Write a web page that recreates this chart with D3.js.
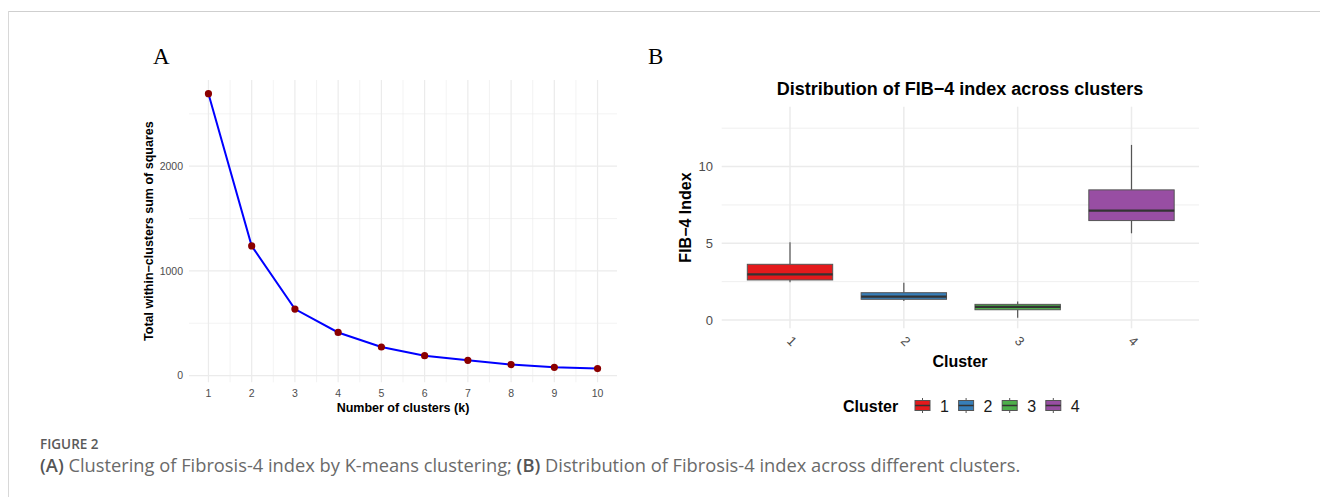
<!DOCTYPE html>
<html>
<head>
<meta charset="utf-8">
<script src="https://cdn.jsdelivr.net/npm/d3@7"></script>
<style>
  body { margin: 0; background: #fff; }
  svg { display: block; font-family: "Liberation Sans", Arial, sans-serif; }
</style>
</head>
<body>
<div id="chart"></div>
<script>
// Panel A: elbow curve
const kValues = [1, 2, 3, 4, 5, 6, 7, 8, 9, 10];
const wssValues = [2692, 1238, 635, 412, 273, 190, 146, 105, 79, 67];
const wssTicks = [0, 1000, 2000];
const wssMinor = [500, 1500, 2500];

// Panel B: box summaries per cluster
const clusters = ["1", "2", "3", "4"];
const fibLower = [2.46, 1.24, 0.15, 5.65];
const fibQ1 = [2.61, 1.35, 0.67, 6.48];
const fibMedian = [2.98, 1.52, 0.85, 7.13];
const fibQ3 = [3.63, 1.78, 1.02, 8.48];
const fibUpper = [5.07, 2.43, 1.20, 11.41];
const fibTicks = [0, 5, 10];
const fibMinor = [2.5, 7.5, 12.5];
const clusterColors = ["#E41A1C", "#377EB8", "#4DAF4A", "#984EA3"];

const svg = d3.select("#chart").append("svg")
    .attr("width", 1320)
    .attr("height", 497);

// frame lines of the figure box
svg.append("line").attr("x1", 8).attr("x2", 1320).attr("y1", 11.5).attr("y2", 11.5)
    .attr("stroke", "#cfcfcf").attr("stroke-width", 1);
svg.append("line").attr("x1", 8.5).attr("x2", 8.5).attr("y1", 11).attr("y2", 497)
    .attr("stroke", "#d8d8d8").attr("stroke-width", 1);

const grid = "#ebebeb";
const tickColor = "#4d4d4d";

// ---------- Panel A ----------
const a = { left: 189, right: 617, top: 80, bottom: 382.3 };

const xA = d3.scaleLinear().domain([0.55, 10.45]).range([a.left, a.right]);
const yA = d3.scaleLinear().domain([-64, 2823]).range([a.bottom, a.top]);

svg.append("text").attr("x", 153).attr("y", 64)
    .style("font-family", "'Liberation Serif', 'Times New Roman', serif")
    .style("font-size", "23px").text("A");

const gA = svg.append("g");

// minor grid
gA.selectAll(".vminA").data(kValues.slice(0, -1).map(k => k + 0.5)).enter().append("line")
    .attr("x1", d => xA(d)).attr("x2", d => xA(d)).attr("y1", a.top).attr("y2", a.bottom)
    .attr("stroke", grid).attr("stroke-width", 0.6);
gA.selectAll(".hminA").data(wssMinor).enter().append("line")
    .attr("x1", a.left).attr("x2", a.right).attr("y1", d => yA(d)).attr("y2", d => yA(d))
    .attr("stroke", grid).attr("stroke-width", 0.6);
// major grid
gA.selectAll(".vmajA").data(kValues).enter().append("line")
    .attr("x1", d => xA(d)).attr("x2", d => xA(d)).attr("y1", a.top).attr("y2", a.bottom)
    .attr("stroke", grid).attr("stroke-width", 1.2);
gA.selectAll(".hmajA").data(wssTicks).enter().append("line")
    .attr("x1", a.left).attr("x2", a.right).attr("y1", d => yA(d)).attr("y2", d => yA(d))
    .attr("stroke", grid).attr("stroke-width", 1.2);

// axes labels (ggplot minimal: no axis lines)
gA.selectAll(".ytA").data(wssTicks).enter().append("text")
    .attr("x", 183).attr("y", d => yA(d)).attr("dy", "0.35em")
    .attr("text-anchor", "end").attr("fill", tickColor)
    .style("font-size", "10.5px").text(d => d);
gA.selectAll(".xtA").data(kValues).enter().append("text")
    .attr("x", d => xA(d)).attr("y", 393).attr("dy", "0.35em")
    .attr("text-anchor", "middle").attr("fill", tickColor)
    .style("font-size", "10.5px").text(d => d);

gA.append("text")
    .attr("transform", `translate(153, ${(a.top + a.bottom) / 2}) rotate(-90)`)
    .attr("text-anchor", "middle").attr("font-weight", "bold")
    .style("font-size", "12.5px").text("Total within\u2212clusters sum of squares");
gA.append("text")
    .attr("x", (a.left + a.right) / 2).attr("y", 412)
    .attr("text-anchor", "middle").attr("font-weight", "bold")
    .style("font-size", "12.5px").text("Number of clusters (k)");

const elbow = kValues.map((k, i) => ({ k: k, v: wssValues[i] }));
gA.append("path").datum(elbow)
    .attr("fill", "none").attr("stroke", "#0000FF").attr("stroke-width", 2)
    .attr("d", d3.line().x(d => xA(d.k)).y(d => yA(d.v)));
gA.selectAll(".pt").data(elbow).enter().append("circle")
    .attr("cx", d => xA(d.k)).attr("cy", d => yA(d.v)).attr("r", 3.6)
    .attr("fill", "#8B0000");

// ---------- Panel B ----------
const b = { left: 721.7, right: 1199, top: 106.7, bottom: 328.3 };

const xB = d3.scalePoint().domain(clusters).range([790, 1131.5]);
const step = xB.step();
const yB = d3.scaleLinear().domain([-0.54, 13.9]).range([b.bottom, b.top]);

svg.append("text").attr("x", 648).attr("y", 64)
    .style("font-family", "'Liberation Serif', 'Times New Roman', serif")
    .style("font-size", "23px").text("B");

const gB = svg.append("g");

gB.append("text").attr("x", 960).attr("y", 95)
    .attr("text-anchor", "middle").attr("font-weight", "bold")
    .style("font-size", "18px").text("Distribution of FIB\u22124 index across clusters");

gB.selectAll(".hminB").data(fibMinor).enter().append("line")
    .attr("x1", b.left).attr("x2", b.right).attr("y1", d => yB(d)).attr("y2", d => yB(d))
    .attr("stroke", grid).attr("stroke-width", 0.8);
gB.selectAll(".hmajB").data(fibTicks).enter().append("line")
    .attr("x1", b.left).attr("x2", b.right).attr("y1", d => yB(d)).attr("y2", d => yB(d))
    .attr("stroke", grid).attr("stroke-width", 1.5);
gB.selectAll(".vmajB").data(clusters).enter().append("line")
    .attr("x1", d => xB(d)).attr("x2", d => xB(d)).attr("y1", b.top).attr("y2", b.bottom)
    .attr("stroke", grid).attr("stroke-width", 1.5);

gB.selectAll(".ytB").data(fibTicks).enter().append("text")
    .attr("x", 713).attr("y", d => yB(d)).attr("dy", "0.35em")
    .attr("text-anchor", "end").attr("fill", tickColor)
    .style("font-size", "13px").text(d => d);
gB.selectAll(".xtB").data(clusters).enter().append("text")
    .attr("transform", d => `translate(${xB(d) + 2}, 341) rotate(45)`)
    .attr("text-anchor", "middle").attr("dy", "0.35em").attr("fill", tickColor)
    .style("font-size", "13px").text(d => d);

gB.append("text")
    .attr("transform", `translate(691, ${(b.top + b.bottom) / 2}) rotate(-90)`)
    .attr("text-anchor", "middle").attr("font-weight", "bold")
    .style("font-size", "16px").text("FIB\u22124 Index");
gB.append("text").attr("x", 960).attr("y", 367)
    .attr("text-anchor", "middle").attr("font-weight", "bold")
    .style("font-size", "16px").text("Cluster");

const boxes = clusters.map((c, i) => ({
    c: c, lo: fibLower[i], q1: fibQ1[i], med: fibMedian[i], q3: fibQ3[i], hi: fibUpper[i], color: clusterColors[i]
}));
const bw = step * 0.75;
const boxG = gB.selectAll(".box").data(boxes).enter().append("g");
boxG.append("line")
    .attr("x1", d => xB(d.c)).attr("x2", d => xB(d.c))
    .attr("y1", d => yB(d.hi)).attr("y2", d => yB(d.q3))
    .attr("stroke", "#555").attr("stroke-width", 1.2);
boxG.append("line")
    .attr("x1", d => xB(d.c)).attr("x2", d => xB(d.c))
    .attr("y1", d => yB(d.q1)).attr("y2", d => yB(d.lo))
    .attr("stroke", "#555").attr("stroke-width", 1.2);
boxG.append("rect")
    .attr("x", d => xB(d.c) - bw / 2).attr("width", bw)
    .attr("y", d => yB(d.q3)).attr("height", d => yB(d.q1) - yB(d.q3))
    .attr("fill", d => d.color).attr("stroke", "#555").attr("stroke-width", 1);
boxG.append("line")
    .attr("x1", d => xB(d.c) - bw / 2).attr("x2", d => xB(d.c) + bw / 2)
    .attr("y1", d => yB(d.med)).attr("y2", d => yB(d.med))
    .attr("stroke", "#333").attr("stroke-width", 2.2);

// legend
const leg = svg.append("g");
leg.append("text").attr("x", 843).attr("y", 412)
    .attr("font-weight", "bold").style("font-size", "16px").text("Cluster");
const keys = leg.selectAll(".key").data(boxes).enter().append("g")
    .attr("transform", (d, i) => `translate(${915 + i * 43.6}, 0)`);
keys.append("line").attr("x1", 7.5).attr("x2", 7.5).attr("y1", 398).attr("y2", 413)
    .attr("stroke", "#555").attr("stroke-width", 1);
keys.append("rect").attr("x", 0).attr("y", 400.5).attr("width", 15).attr("height", 10)
    .attr("fill", d => d.color).attr("stroke", "#555").attr("stroke-width", 1);
keys.append("line").attr("x1", 0).attr("x2", 15).attr("y1", 405.5).attr("y2", 405.5)
    .attr("stroke", "#333").attr("stroke-width", 1.5);
keys.append("text").attr("x", 25).attr("y", 412)
    .style("font-size", "16px").attr("fill", "#1a1a1a").text(d => d.c);

// caption
const cap = svg.append("g").style("font-family", "'Open Sans', 'Noto Sans', sans-serif");
cap.append("text").attr("x", 40).attr("y", 449)
    .attr("fill", "#5a5a5a").attr("font-weight", 600).style("font-size", "13.5px").text("FIGURE 2");
const line = cap.append("text").attr("x", 40).attr("y", 471.5)
    .attr("fill", "#6a6a6a").style("font-size", "18.3px");
line.append("tspan").attr("font-weight", 600).attr("fill", "#555").text("(A)");
line.append("tspan").text(" Clustering of Fibrosis-4 index by K-means clustering; ");
line.append("tspan").attr("font-weight", 600).attr("fill", "#555").text("(B)");
line.append("tspan").text(" Distribution of Fibrosis-4 index across different clusters.");
</script>
</body>
</html>
